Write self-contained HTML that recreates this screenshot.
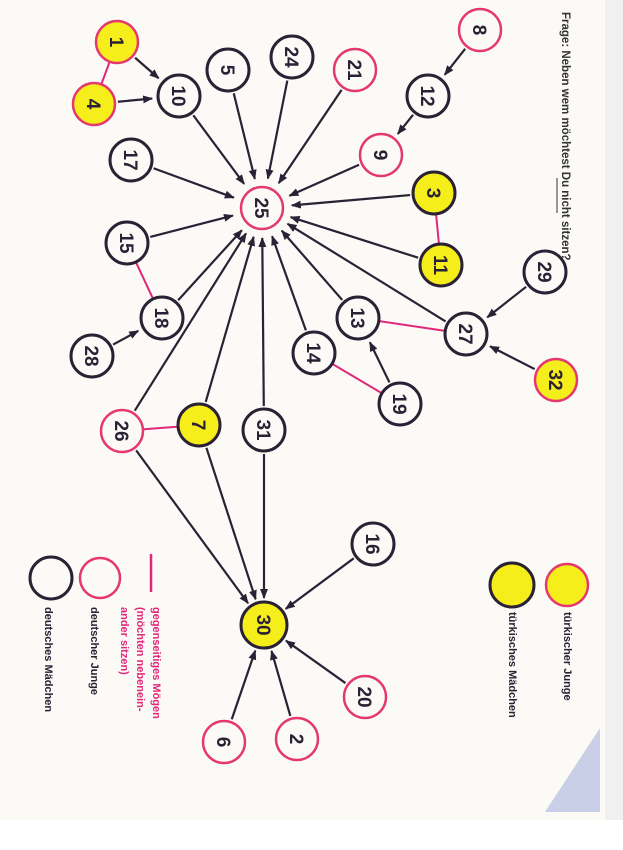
<!DOCTYPE html>
<html><head><meta charset="utf-8"><style>
html,body{margin:0;padding:0;background:#fff}
svg{display:block}
text{font-family:"Liberation Sans",sans-serif;font-weight:bold}
</style></head><body>
<svg id="s" width="623" height="850" viewBox="0 0 623 850" xmlns="http://www.w3.org/2000/svg">
<rect width="623" height="850" fill="#fbfaf6"/>
<rect x="605" y="0" width="18" height="850" fill="#f0f0f0"/>
<rect x="0" y="820" width="623" height="30" fill="#ffffff"/>
<polygon points="600,728 600,812 545,812" fill="#c9cfe6"/>
<defs><marker id="a" markerWidth="10" markerHeight="8" refX="9" refY="4" orient="auto" markerUnits="userSpaceOnUse"><path d="M0,0 L10,4 L0,8 z" fill="#2b2135"/></marker></defs>
<g id="g"></g>
<g font-size="11" fill="#333">
<text transform="translate(562,12) rotate(90)" font-weight="normal" font-size="11.5">Frage: Neben wem möchtest Du nicht sitzen?</text>
<line x1="557" y1="178" x2="557" y2="213" stroke="#333" stroke-width="1"/>
<text transform="translate(564,612) rotate(90)" fill="#2b2135">türkischer Junge</text>
<text transform="translate(509,612) rotate(90)" fill="#2b2135">türkisches Mädchen</text>
<text transform="translate(153,607) rotate(90)" fill="#e0287a">gegenseitiges Mögen</text>
<text transform="translate(137,607) rotate(90)" fill="#e0287a">(möchten nebenein-</text>
<text transform="translate(121,607) rotate(90)" fill="#e0287a">ander sitzen)</text>
<text transform="translate(91,607) rotate(90)" fill="#2b2135">deutscher Junge</text>
<text transform="translate(45,607) rotate(90)" fill="#2b2135">deutsches Mädchen</text>
</g>
<line x1="151" y1="554" x2="151" y2="592" stroke="#e0287a" stroke-width="2.5"/>
<circle cx="567" cy="585" r="21" fill="#f6ee1a" stroke="#e4386e" stroke-width="2.5"/>
<circle cx="512" cy="585" r="22" fill="#f6ee1a" stroke="#2b2135" stroke-width="3"/>
<circle cx="100" cy="578" r="20" fill="none" stroke="#e4386e" stroke-width="2.5"/>
<circle cx="51" cy="578" r="21" fill="none" stroke="#2b2135" stroke-width="3"/>
</svg>
<script>
var N={1:[117,42,'yp'],4:[94,104,'yp'],10:[179,96,'d'],5:[228,70,'d'],24:[292,57,'d'],21:[355,70,'p'],8:[480,30,'p'],12:[428,96,'d'],9:[381,155,'p'],17:[131,160,'d'],25:[262,208,'p'],3:[434,193,'yd'],11:[441,265,'yd'],15:[127,243,'d'],18:[162,318,'d'],28:[92,356,'d'],29:[545,272,'d'],13:[358,318,'d'],27:[466,334,'d'],14:[314,353,'d'],19:[400,404,'d'],32:[556,380,'yp'],26:[122,431,'p'],7:[199,425,'yd'],31:[264,430,'d'],16:[373,544,'d'],30:[264,625,'yd'],20:[365,697,'p'],2:[297,739,'p'],6:[224,742,'p']};
var A=[[10,25],[5,25],[24,25],[21,25],[9,25],[17,25],[3,25],[11,25],[15,25],[18,25],[13,25],[27,25],[14,25],[7,25],[26,25],[31,25],[1,10],[4,10],[8,12],[12,9],[28,18],[29,27],[32,27],[19,13],[26,30],[7,30],[31,30],[16,30],[20,30],[2,30],[6,30]];
var M=[[1,4],[3,11],[15,18],[13,27],[14,19],[26,7]];
var g=document.getElementById('g'),h='';
function e(a,b,r1,r2){var x1=N[a][0],y1=N[a][1],x2=N[b][0],y2=N[b][1],dx=x2-x1,dy=y2-y1,d=Math.hypot(dx,dy);return [x1+dx/d*r1,y1+dy/d*r1,x2-dx/d*r2,y2-dy/d*r2];}
M.forEach(function(m){var p=e(m[0],m[1],22,22);h+='<line x1="'+p[0]+'" y1="'+p[1]+'" x2="'+p[2]+'" y2="'+p[3]+'" stroke="#e0287a" stroke-width="2"/>';});
A.forEach(function(m){var p=e(m[0],m[1],24,m[1]==25?30:27);h+='<line x1="'+p[0]+'" y1="'+p[1]+'" x2="'+p[2]+'" y2="'+p[3]+'" stroke="#2b2135" stroke-width="2.2" marker-end="url(#a)"/>';});
for(var k in N){var n=N[k],t=n[2],r=(k==30?23:21);var fill=t[0]=='y'?'#f6ee1a':'#fbfaf6';var st=(t=='p'||t=='yp')?'#e4386e':'#2b2135';
h+='<circle cx="'+n[0]+'" cy="'+n[1]+'" r="'+r+'" fill="'+fill+'" stroke="'+st+'" stroke-width="'+(st=='#2b2135'?3:2.5)+'"/>';
h+='<text transform="translate('+n[0]+','+n[1]+') rotate(90)" text-anchor="middle" dy="7" font-size="19" fill="#2b2135">'+k+'</text>';}
g.innerHTML=h;
</script>
</body></html>
